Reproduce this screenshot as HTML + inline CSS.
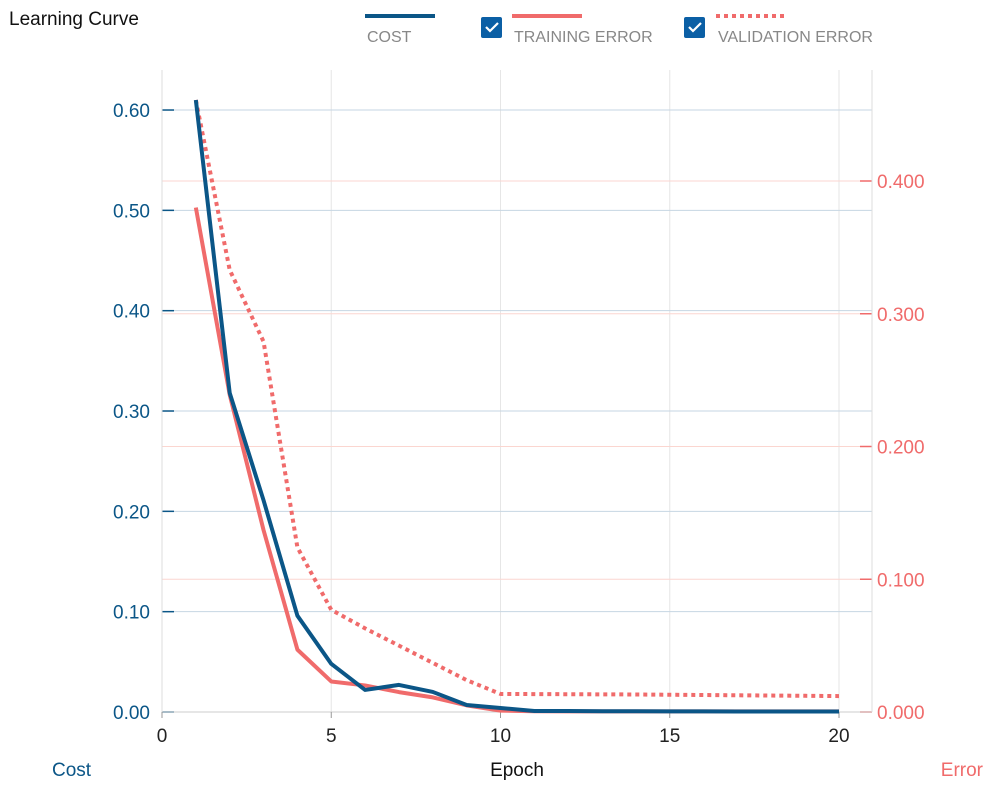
<!DOCTYPE html>
<html><head><meta charset="utf-8"><style>
body{margin:0;background:#fff;width:996px;height:789px;overflow:hidden;font-family:"Liberation Sans",sans-serif}
svg text{font-family:"Liberation Sans",sans-serif}
</style></head><body>
<svg id="chart" width="996" height="789"></svg>
<script>
const epochs=[1,2,3,4,5,6,7,8,9,10,11,12,13,14,15,16,17,18,19,20];
const costValues=[0.61,0.318,0.211,0.096,0.048,0.022,0.027,0.020,0.007,0.004,0.001,0.001,0.0008,0.0007,0.0006,0.0006,0.0005,0.0005,0.0005,0.0005];
const trainErr=[0.380,0.239,0.137,0.047,0.023,0.020,0.015,0.011,0.005,0.001,0.0006,0.0005,0.0005,0.0005,0.0005,0.0005,0.0005,0.0005,0.0005,0.0005];
const valErr=[0.461,0.333,0.279,0.124,0.077,0.063,0.050,0.037,0.024,0.0136,0.0135,0.0134,0.0133,0.0132,0.013,0.0128,0.0126,0.0124,0.0122,0.012];
const xTicks=[0,5,10,15,20];
const leftTicks=[0,0.1,0.2,0.3,0.4,0.5,0.6];
const rightTicks=[0,0.1,0.2,0.3,0.4];
const NS="http://www.w3.org/2000/svg";
const svg=document.getElementById('chart');
const x0=162,x1=839,yB=712;
const X=v=>x0+(x1-x0)*v/20;
const YL=v=>yB-v*1003.3;
const YR=v=>yB-v*1327.5;
function mk(t,a,p){const e=document.createElementNS(NS,t);for(const k in a)e.setAttribute(k,a[k]);(p||svg).appendChild(e);return e;}
function txt(s,a){const e=mk('text',a);e.textContent=s;return e;}
const blue='#0b5687',red='#f06b6b';
// vertical grid
xTicks.forEach(t=>{if(t>0){const l=mk('line',{x1:X(t),x2:X(t),y1:70,y2:yB,stroke:'#e6e6e6'});}});
// right grid
rightTicks.forEach(t=>{if(t>0){const l=mk('line',{x1:162,x2:872,y1:YR(t),y2:YR(t),stroke:'#fbd6d0'});}
 const tk=mk('line',{x1:860,x2:872,y1:YR(t),y2:YR(t),stroke:red,'stroke-width':1.5});
 const tl=txt(t.toFixed(3),{x:877,y:YR(t)+7,fill:red,'font-size':19});});
// left grid
leftTicks.forEach(t=>{if(t>0){const l=mk('line',{x1:162,x2:872,y1:YL(t),y2:YL(t),stroke:'#c6d6e3'});}
 const tk=mk('line',{x1:162,x2:174,y1:YL(t),y2:YL(t),stroke:blue,'stroke-width':1.5});
 const tl=txt(t.toFixed(2),{x:150,y:YL(t)+7,fill:blue,'font-size':19,'text-anchor':'end'});});
// axes
let a=mk('line',{x1:162,x2:872,y1:yB,y2:yB,stroke:'#ccc'});
a=mk('line',{x1:162,x2:162,y1:70,y2:yB,stroke:'#ddd'});
a=mk('line',{x1:872,x2:872,y1:70,y2:yB,stroke:'#ddd'});
xTicks.forEach(t=>{const tk=mk('line',{x1:X(t),x2:X(t),y1:yB,y2:yB+6,stroke:'#999'});
 const tl=txt(String(t),{x:X(t),y:yB+30,'font-size':19,'text-anchor':'middle',fill:'#222'});});
// series
function line(vals,Y,attrs,name){const d=vals.map((v,i)=>(i?'L':'M')+X(epochs[i])+','+Y(v)).join(' ');const p=mk('path',Object.assign({d:d,fill:'none','stroke-linejoin':'round'},attrs));}
line(valErr,YR,{stroke:red,'stroke-width':4,'stroke-dasharray':'4 4'},'validation-error-line');
line(trainErr,YR,{stroke:red,'stroke-width':4},'training-error-line');
line(costValues,YL,{stroke:blue,'stroke-width':4},'cost-line');
// titles
let t=txt('Learning Curve',{x:9,y:25,'font-size':19,fill:'#111'});
t=txt('Cost',{x:52,y:776,'font-size':19,fill:blue});
t=txt('Epoch',{x:517,y:776,'font-size':19,fill:'#111','text-anchor':'middle'});
t=txt('Error',{x:983,y:776,'font-size':19,fill:red,'text-anchor':'end'});
// legend
let g=mk('g',{});
mk('line',{x1:365,x2:435,y1:16,y2:16,stroke:blue,'stroke-width':4},g);
t=txt('COST',{x:367,y:42,'font-size':16,fill:'#888'});g.appendChild(t);
function cb(x,name,label,lx,dash){const g=mk('g',{});
 mk('rect',{x:x,y:17,width:21,height:21,rx:2,fill:'#0b5fa5'},g);
 mk('path',{d:`M${x+5},${27} l4,4 l8,-8`,stroke:'#fff','stroke-width':2.2,fill:'none'},g);
 const l=mk('line',{x1:lx,x2:lx+70,y1:16,y2:16,stroke:red,'stroke-width':4},g);if(dash)l.setAttribute('stroke-dasharray','4 4');
 const tt=txt(label,{x:lx+2,y:42,'font-size':16,fill:'#888'});g.appendChild(tt);}
cb(481,'legend-training-error','TRAINING ERROR',512,false);
cb(684,'legend-validation-error','VALIDATION ERROR',716,true);
</script>
</body></html>
